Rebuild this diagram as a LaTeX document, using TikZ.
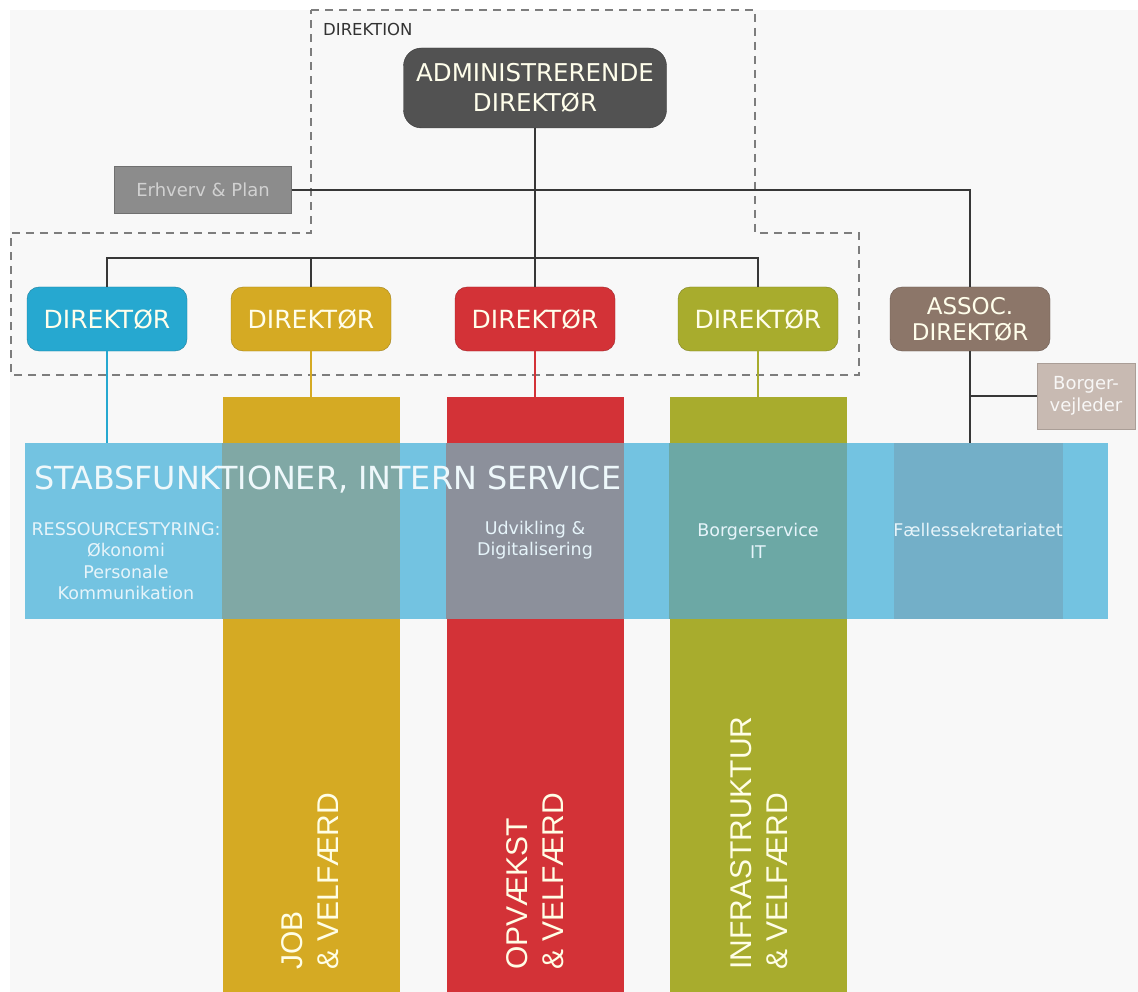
\documentclass[tikz,border=0pt]{standalone}
\usepackage{fontspec}
\setmainfont{DejaVu Sans}
\newfontfamily\colfont{Liberation Sans}

\definecolor{bgGrey}{RGB}{248,248,248}
\definecolor{adminGrey}{RGB}{82,82,82}
\definecolor{dirBlue}{RGB}{38,168,208}
\definecolor{dirGold}{RGB}{213,170,35}
\definecolor{dirRed}{RGB}{211,50,55}
\definecolor{dirGreen}{RGB}{168,172,45}
\definecolor{dirBrown}{RGB}{140,118,105}
\definecolor{erhvGrey}{RGB}{140,140,140}
\definecolor{borgerTan}{RGB}{200,186,178}
\definecolor{bandBlue}{RGB}{115,195,225}
\definecolor{ovGold}{RGB}{128,168,165}
\definecolor{ovRed}{RGB}{140,144,155}
\definecolor{ovGreen}{RGB}{108,168,165}
\definecolor{faelBlue}{RGB}{115,175,200}
\definecolor{lineGrey}{RGB}{55,55,55}
\definecolor{dashGrey}{RGB}{125,125,125}

\tikzset{
  dirbox/.style={rounded corners=12pt, minimum width=160pt, minimum height=64pt, inner sep=0pt,
    text=white!92!yellow, font=\fontsize{25}{28}\selectfont},
  column/.style={inner sep=0pt, minimum width=177pt, minimum height=595pt},
  coltext/.style={rotate=90, anchor=west, align=left, inner sep=0pt, text=white!90!yellow,
    font=\colfont\fontsize{30}{36}\selectfont},
  bandtext/.style={align=center, inner sep=0pt, text=white!82!bandBlue, font=\fontsize{17.5}{21.5}\selectfont},
  link/.style={draw=lineGrey, line width=1.5pt},
  drop/.style={line width=1.3pt}
}

\begin{document}
\begin{tikzpicture}[x=1pt,y=-1pt]
        \useasboundingbox (0,0) rectangle (1138,992);
        \fill[white] (0,0) rectangle (1138,992);
        \fill[bgGrey] (10,10) rectangle (1138,992);

        \draw[dashGrey, line width=1.2pt, dash pattern=on 8pt off 6pt] (311,10) -- (755,10) -- (755,233) -- (859,233)
            -- (859,375) -- (11,375) -- (11,233) -- (311,233) -- cycle;
        \node [anchor=west, inner sep=0pt, text=black!80, font=\fontsize{16.5}{18}\selectfont] (direktion) at (323,29) {DIREKTION};

        \node [dirbox, fill=adminGrey, draw=adminGrey!70!black, minimum width=263pt, minimum height=80pt,
            rounded corners=18pt, align=center, font=\fontsize{24.5}{30}\selectfont] (admin) at (535,88) {ADMINISTRERENDE\\DIREKTØR};
        \node [fill=erhvGrey, draw=erhvGrey!80!black, minimum width=177pt, minimum height=47pt, inner sep=0pt,
            text=white!82!black, font=\fontsize{18}{20}\selectfont] (erhverv) at (203,190) {Erhverv \& Plan};

        \node [dirbox, fill=dirBlue, draw=dirBlue!75!black] (dirB) at (107,319) {DIREKTØR};
        \node [dirbox, fill=dirGold, draw=dirGold!75!black] (dirY) at (311,319) {DIREKTØR};
        \node [dirbox, fill=dirRed, draw=dirRed!75!black] (dirR) at (535,319) {DIREKTØR};
        \node [dirbox, fill=dirGreen, draw=dirGreen!75!black] (dirG) at (758,319) {DIREKTØR};
        \node [dirbox, fill=dirBrown, draw=dirBrown!75!black, align=center, font=\fontsize{23}{26}\selectfont] (assoc) at (970,319) {ASSOC.\\DIREKTØR};
        \node [fill=borgerTan, draw=borgerTan!85!black, minimum width=98pt, minimum height=66pt, inner sep=0pt, align=center,
            text=white!88!borgerTan, font=\fontsize{18}{22}\selectfont] (borger) at (1086,396) {Borger-\\vejleder};

        \coordinate (bus) at (0,258);
        \draw[link] (admin) -- (dirR);
        \draw[link] (dirB.north) |- (bus -| dirG.north) -- (dirG.north);
        \draw[link] (dirY.north) -- (dirY.north |- bus);
        \draw[link] (erhverv.east) -| (assoc.north);

        \node [column, fill=dirGold] (colY) at (311,694.5) {};
        \node [column, fill=dirRed] (colR) at (535,694.5) {};
        \node [column, fill=dirGreen] (colG) at (758,694.5) {};
        \node [fill=bandBlue, inner sep=0pt, minimum width=1083pt, minimum height=176pt] (band) at (566.5,531) {};
        \fill[ovGold] (colY.west |- band.north) rectangle (colY.east |- band.south);
        \fill[ovRed] (colR.west |- band.north) rectangle (colR.east |- band.south);
        \fill[ovGreen] (colG.west |- band.north) rectangle (colG.east |- band.south);
        \fill[faelBlue] (894,443) rectangle (1063,619);

        \draw[drop, dirBlue] (dirB.south) -- (dirB.south |- band.north);
        \draw[drop, dirGold] (dirY) -- (colY);
        \draw[drop, dirRed] (dirR) -- (colR);
        \draw[drop, dirGreen] (dirG) -- (colG);
        \draw[link] (assoc.south) -- (assoc.south |- band.north);
        \draw[link] (borger.west) -- (borger.west -| assoc.south);

        \node [anchor=west, inner sep=0pt, text=white!88!bandBlue, font=\fontsize{31.8}{34}\selectfont] (stabs) at (34,480) {STABSFUNKTIONER, INTERN SERVICE};
        \node [bandtext] (ressource) at (126,561) {RESSOURCESTYRING:\\Økonomi\\Personale\\Kommunikation};
        \node [bandtext] (udvikling) at (535,540) {Udvikling \&\\Digitalisering};
        \node [bandtext] (borgerIT) at (758,541) {Borgerservice\\IT};
        \node [bandtext] (faelles) at (978,530) {Fællessekretariatet};

        \node [coltext] (jobTxt) at (310,970) {JOB\\\& VELFÆRD};
        \node [coltext] (opvTxt) at (535,970) {OPVÆKST\\\& VELFÆRD};
        \node [coltext] (infraTxt) at (759,970) {INFRASTRUKTUR\\\& VELFÆRD};
    \end{tikzpicture}
\end{document}
